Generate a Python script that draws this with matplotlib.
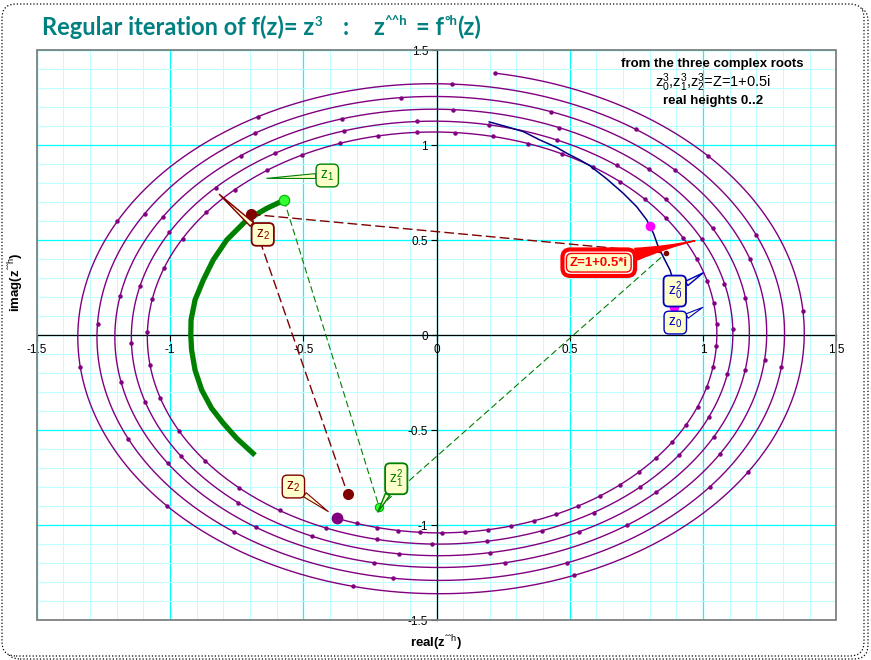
import numpy as np
import matplotlib
matplotlib.use("Agg")
import matplotlib.pyplot as plt
from matplotlib.patches import FancyBboxPatch, Rectangle
from matplotlib.ticker import MultipleLocator
from matplotlib.transforms import IdentityTransform

plt.rcParams['mathtext.fontset'] = 'custom'
plt.rcParams['mathtext.rm'] = 'Liberation Sans'
plt.rcParams['mathtext.it'] = 'Liberation Sans:italic'
plt.rcParams['mathtext.bf'] = 'Liberation Sans:bold'
plt.rcParams['font.family'] = ['Liberation Sans', 'DejaVu Sans']

# ---------------- data ----------------
# purple spiral z2^(3^h): argument (deg, unwrapped) and modulus read at quarter turns
spiral_arg_deg = [248.9, 270, 360, 450, 540, 630, 720, 810, 900, 990, 1080, 1170,
                  1260, 1350, 1440, 1530, 1620, 1710, 1800, 1890, 1980, 2070, 2160, 2241]
spiral_radius = [1.033, 1.040, 1.052, 1.070, 1.085, 1.099, 1.112, 1.127, 1.145, 1.160,
                 1.174, 1.190, 1.207, 1.222, 1.239, 1.257, 1.274, 1.290, 1.306, 1.324,
                 1.346, 1.360, 1.380, 1.397]
height_min, height_max = 0.0, 2.0
dot_steps_per_height = 64          # one dot per 1/64 of height

# blue trajectory (z0 branch)
blue_x = [0.198, 0.263, 0.326, 0.388, 0.451, 0.489, 0.538, 0.576, 0.639, 0.701,
          0.751, 0.789, 0.814, 0.832, 0.857, 0.876, 0.888]
blue_y = [1.123, 1.098, 1.072, 1.028, 0.989, 0.958, 0.923, 0.892, 0.823, 0.747,
          0.677, 0.607, 0.537, 0.466, 0.396, 0.344, 0.291]

# thick green trajectory (z1 branch)
green_x = [-0.572, -0.637, -0.712, -0.787, -0.838, -0.875, -0.906, -0.921, -0.922,
           -0.919, -0.906, -0.881, -0.844, -0.800, -0.750, -0.681]
green_y = [0.711, 0.668, 0.607, 0.502, 0.396, 0.291, 0.186, 0.081, 0.0,
           -0.077, -0.183, -0.288, -0.384, -0.463, -0.542, -0.631]

# marked points
magenta_x = [0.891, 0.888, 0.801]
magenta_y = [0.148, 0.291, 0.577]
z1_pt = (-0.572, 0.711)
z1sq_pt = (-0.215, -0.905)
darkred_x = [-0.697, -0.333]
darkred_y = [0.637, -0.837]
z_hit = (0.861, 0.433)

tick_values = [-1.5, -1, -0.5, 0, 0.5, 1, 1.5]
tick_labels = ["-1.5", "-1", "-0.5", "0", "0.5", "1", "1.5"]

# ---------------- figure ----------------
W, H, DPI = 871, 660, 100
fig = plt.figure(figsize=(W / DPI, H / DPI), dpi=DPI)
fig.patch.set_facecolor('white')

# rounded dotted frame with shadow (display pixels, origin bottom-left)
shadow = FancyBboxPatch((6, 1), 862, 652, boxstyle="round,pad=0,rounding_size=14",
                        transform=IdentityTransform(), fill=False, ec='black', lw=0.9,
                        ls=':', zorder=-3)
frame = FancyBboxPatch((2, 4), 862, 652, boxstyle="round,pad=0,rounding_size=14",
                       transform=IdentityTransform(), fc='white', ec='black', lw=0.9,
                       ls=':', zorder=-2)
fig.patches.extend([shadow, frame])

L, R, T, B = 36.75, 836.25, 50.3, 620.3
ax = fig.add_axes([L / W, 1 - B / H, (R - L) / W, (B - T) / H])
ax.set_xlim(-1.5, 1.5)
ax.set_ylim(-1.5, 1.5)
ax.set_facecolor('white')

ax.xaxis.set_minor_locator(MultipleLocator(0.1))
ax.yaxis.set_minor_locator(MultipleLocator(0.1))
ax.set_xticks(tick_values)
ax.set_xticklabels(tick_labels)
ax.set_yticks(tick_values)
ax.set_yticklabels(tick_labels)
ax.grid(which='minor', color='#C0FFFF', lw=0.75)
ax.grid(which='major', color='#00FFFF', lw=0.9)
ax.set_axisbelow(True)
ax.tick_params(which='minor', length=0)
ax.tick_params(which='major', direction='out', length=4, width=0.8, labelsize=8.5,
               color='black')
ax.tick_params(axis='x', pad=2)
ax.tick_params(axis='y', pad=2)
for s in ['top', 'right']:
    ax.spines[s].set_visible(False)
for s in ['left', 'bottom']:
    ax.spines[s].set_position('zero')
    ax.spines[s].set_color('black')
    ax.spines[s].set_linewidth(0.9)
ax.add_patch(Rectangle((0, 0), 1, 1, transform=ax.transAxes, fill=False,
                       ec='#808080', lw=1.3, clip_on=False, zorder=5))

# purple spiral line
arg = np.array(spiral_arg_deg)
rad = np.array(spiral_radius)
t_line = np.linspace(arg[0], arg[-1], 4000)
r_line = np.interp(t_line, arg, rad)
ax.plot(r_line * np.cos(np.radians(t_line)), r_line * np.sin(np.radians(t_line)),
        color='#800080', lw=1.0, zorder=3)
# dots at equal height steps (argument grows by a constant factor per step)
h = np.linspace(height_min, height_max,
                int((height_max - height_min) * dot_steps_per_height) + 1)
t_dot = arg[0] * (arg[-1] / arg[0]) ** ((h - height_min) / (height_max - height_min))
r_dot = np.interp(t_dot, arg, rad)
ax.plot(r_dot * np.cos(np.radians(t_dot)), r_dot * np.sin(np.radians(t_dot)), 'o',
        ms=3.2, color='#800080', mec='none', zorder=3)

# blue and green trajectories
ax.plot(blue_x, blue_y, color='#000080', lw=1.1, zorder=3)
ax.plot(green_x, green_y, color='#008000', lw=3.8, solid_capstyle='butt', zorder=3)

# dashed connectors
ax.plot([darkred_x[0], darkred_x[1]], [darkred_y[0], darkred_y[1]], color='#800000',
        lw=1.0, dashes=(7, 3), zorder=3)
ax.plot([darkred_x[0], z_hit[0]], [darkred_y[0], z_hit[1]], color='#800000',
        lw=1.0, dashes=(7, 3), zorder=3)
ax.plot([z1_pt[0], z1sq_pt[0]], [z1_pt[1], z1sq_pt[1]], color='#008000',
        lw=0.8, dashes=(6, 3), zorder=3)
ax.plot([z1sq_pt[0], z_hit[0]], [z1sq_pt[1], z_hit[1]], color='#008000',
        lw=0.8, dashes=(6, 3), zorder=3)

# marker points
ax.plot(magenta_x, magenta_y, 'o', ms=7, color='#FF00FF', mec='none', zorder=4)
ax.plot(*z1_pt, 'o', ms=7.5, mfc='#33FF33', mec='#00B000', mew=0.8, zorder=4)
ax.plot(*z1sq_pt, 'o', ms=6, mfc='#33FF33', mec='#00B000', mew=0.8, zorder=4)
ax.plot(darkred_x, darkred_y, 'o', ms=8, color='#800000', mec='none', zorder=4)
ax.plot(*z_hit, 'o', ms=4, color='#800000', mec='none', zorder=4)
ax.plot(r_line[0] * np.cos(np.radians(arg[0])), r_line[0] * np.sin(np.radians(arg[0])),
        'o', ms=8.5, color='#800080', mec='none', zorder=4)


def callout(text, xy, xytext, color, lw=1.0, fs=10, tail=0.35, fc='#FFFFCC',
            wedge_fc=None, weight='normal'):
    ax.annotate(text, xy=xy, xytext=xytext, ha='center', va='center', color=color,
                fontsize=fs, fontweight=weight, zorder=6,
                bbox=dict(boxstyle='round,pad=0.3,rounding_size=0.35', fc=fc, ec=color, lw=lw),
                arrowprops=dict(arrowstyle=f'wedge,tail_width={tail},shrink_factor=0.5',
                                fc=wedge_fc or fc, ec=color, lw=lw * 0.8,
                                shrinkA=0, shrinkB=0))


callout("z$_1$", (-0.637, 0.826), (-0.410, 0.841), '#008000')
callout("z$_2$", (-0.815, 0.742), (-0.652, 0.531), '#800000', lw=1.3)
callout("z$_2$", (-0.406, -0.928), (-0.537, -0.796), '#800000')
callout("z$_1^2$", (-0.220, -0.930), (-0.151, -0.755), '#008000', lw=1.3)
callout("z$_0^2$", (1.001, 0.329), (0.894, 0.233), '#0000C0', lw=1.3)
callout("z$_0$", (0.999, 0.147), (0.896, 0.067), '#0000C0')

# big red callout for Z
ax.annotate("Z=1+0.5*i", xy=(0.970, 0.498), xytext=(0.609, 0.382), ha='center', va='center',
            color='red', fontsize=9.5, fontweight='bold', zorder=6,
            bbox=dict(boxstyle='round,pad=0.55,rounding_size=0.6', fc='white', ec='red', lw=3),
            arrowprops=dict(arrowstyle='wedge,tail_width=0.9,shrink_factor=0.3', fc='red',
                            ec='red', lw=1, shrinkA=0, shrinkB=0))
ax.text(0.609, 0.382, "Z=1+0.5*i", ha='center', va='center', color='red', fontsize=9.5,
        fontweight='bold', zorder=7,
        bbox=dict(boxstyle='round,pad=0.25,rounding_size=0.4', fc='#FFFFCC', ec='red', lw=1))

# info text
fig.text(712.7 / W, 1 - 64.3 / H, "from the three complex roots", ha='center', va='center',
         fontsize=9.5, fontweight='bold')
fig.text(712.7 / W, 1 - 82.7 / H, "z$_0^3$,z$_1^3$,z$_2^3$=Z=1+0.5i", ha='center',
         va='center', fontsize=10.5)
fig.text(712.7 / W, 1 - 101 / H, "real heights 0..2", ha='center', va='center',
         fontsize=9.5, fontweight='bold')

# axis labels
ax.set_xlabel("real(z$^{\\mathrm{ˆˆh}}$)", fontsize=9.5, fontweight='bold',
              family=['Liberation Sans Narrow', 'Liberation Sans'])
ax.xaxis.set_label_coords((436 - L) / (R - L), (B - 633) / (B - T))
ax.set_ylabel("imag(z$^{\\mathrm{ˆˆh}}$)", fontsize=9.5, fontweight='bold',
              family=['Liberation Sans Narrow', 'Liberation Sans'])
ax.yaxis.set_label_coords((25 - L) / (R - L), (B - 282) / (B - T))

# title built from pieces (normal + raised small text)
renderer = fig.canvas.get_renderer()
title_kw = dict(color='#008080', fontweight='bold', family=['Lato', 'DejaVu Sans'])


def flow(x_px, base_px, pieces):
    x = x_px
    for s, size, rise in pieces:
        t = fig.text(x / W, 1 - (base_px - rise) / H, s, fontsize=size, ha='left',
                     va='baseline', **title_kw)
        x += t.get_window_extent(renderer).width
    return x


flow(42, 35, [("Regular iteration of f(z)= z", 17, 0), ("3", 9.5, 9)])
flow(343, 35, [(":", 17, 0)])
flow(373, 35, [("z", 17, 0), ("^^h", 9.5, 10)])
flow(416, 35, [("= f", 17, 0), ("°h", 9.5, 10), ("(z)", 17, 0)])

fig.savefig("out.png", dpi=DPI)
